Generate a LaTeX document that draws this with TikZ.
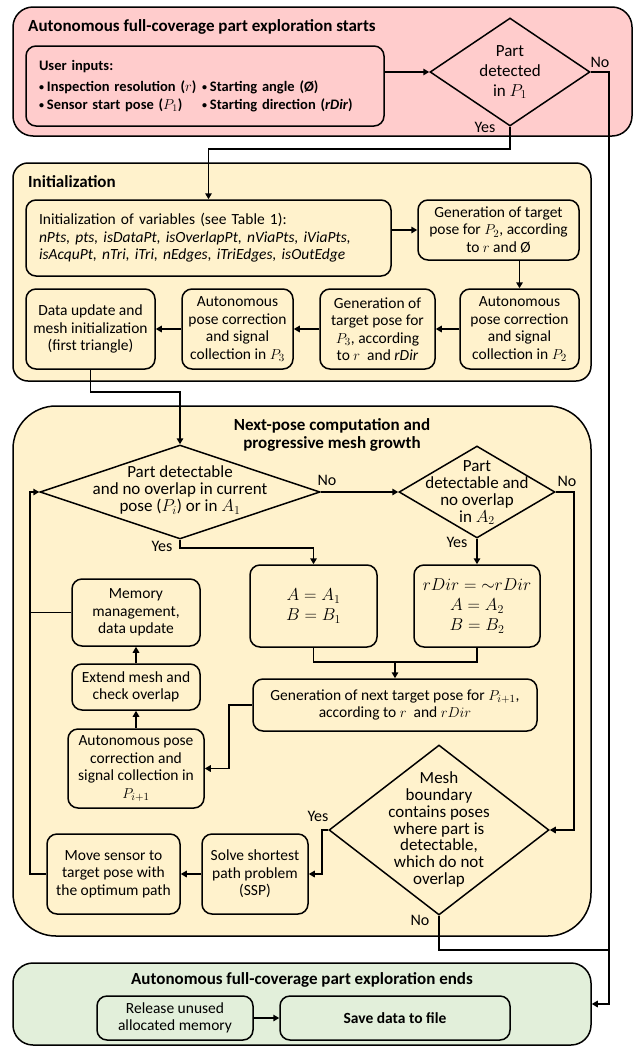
\documentclass[tikz,border=0pt]{standalone}
\usepackage{fontspec}
\usepackage{graphicx}
\setmainfont{Carlito}
\usetikzlibrary{shapes.geometric,arrows.meta,calc}
\definecolor{pinkfill}{RGB}{255,204,204}
\definecolor{yellowfill}{RGB}{255,242,204}
\definecolor{greenfill}{RGB}{226,239,218}
\newcommand{\smbul}{{\fontsize{10}{10}\selectfont\raisebox{1.2pt}{\textbullet}}\hspace{3pt}}
\begin{document}
\begin{tikzpicture}[x=1pt,y=-1pt,
  wh/.style n args={2}{minimum width=#1, minimum height=#2},
  container/.style={draw, line width=1.5pt, rectangle, inner sep=0pt},
  box/.style={draw, line width=1.5pt, rounded corners=10pt, align=center, inner sep=0pt, fill=yellowfill, font=\fontsize{15.5}{17.5}\selectfont},
  dia/.style={draw, diamond, line width=1.5pt, inner sep=0pt, fill=yellowfill},
  dtext/.style={align=center, inner sep=0pt, font=\fontsize{17}{17}\selectfont},
  ttl/.style={inner sep=0pt, font=\fontsize{17}{18}\selectfont\bfseries},
  lbl/.style={inner sep=0pt, font=\fontsize{16}{18}\selectfont},
  conn/.style={line width=1.5pt},
  arr/.style={line width=1.5pt, -{Triangle[length=6pt,width=6.5pt]}}]
\useasboundingbox (0,0) rectangle (634,1047);

% ---------- start section ----------
\node[container, fill=pinkfill, rounded corners=20pt, wh={619}{129}] (start) at (322.5,71.5) {};
\node[ttl, anchor=west] (startT) at (28,27) {Autonomous full-coverage part exploration starts};
\node[box, fill=pinkfill, wh={358}{80}, text width=332, align=left, font=\fontsize{14.5}{18}\selectfont\bfseries] (user) at (205,86)
 {User inputs:\\[3pt]
  \makebox[163pt][l]{\smbul Inspection resolution ($r$)}\smbul Starting angle (Ø)\\
  \makebox[163pt][l]{\smbul Sensor start pose ($P_1$)}\smbul Starting direction (\textit{rDir})};
\node[dia, fill=pinkfill, wh={160}{108}] (D0) at (510,72) {};
\node[dtext, font=\fontsize{17}{20}\selectfont] (D0t) at (510,72) {Part\\detected\\in $P_1$};
\node[lbl] (D0no) at (600,62) {No};
\node[lbl] (D0yes) at (485,127) {Yes};

% ---------- initialization ----------
\node[container, fill=yellowfill, rounded corners=15pt, wh={578}{218}] (init) at (302,272) {};
\node[ttl, anchor=west] (initT) at (28,182) {Initialization};
\node[box, wh={365}{76}, text width=339, align=left] (var) at (208.5,238)
 {Initialization of variables (see Table 1):\\
  \mbox{\itshape nPts, pts, isDataPt, isOverlapPt, nViaPts, iViaPts,}\\
  \mbox{\itshape isAcquPt, nTri, iTri, nEdges, iTriEdges, isOutEdge}};
\node[box, wh={161}{60}] (genP2) at (498.5,230) {Generation of target\\pose for $P_2$, according\\to $r$ and Ø};
\node[box, wh={129}{80}] (dataUp) at (90.5,329) {Data update and\\mesh initialization\\(first triangle)};
\node[box, wh={111}{80}] (autoP3) at (237.5,329) {Autonomous\\pose correction\\and signal\\collection in $P_3$};
\node[box, wh={115}{80}] (genP3) at (377.5,329) {Generation of\\target pose for\\$P_3$, according\\to $r$\ \ and \textit{rDir}};
\node[box, wh={119}{80}] (autoP2) at (519.5,329) {Autonomous\\pose correction\\and signal\\collection in $P_2$};

% ---------- next-pose section ----------
\node[container, fill=yellowfill, rounded corners=43pt, wh={578}{530}] (mid) at (302,671) {};
\node[ttl, align=center] (midT) at (332,435) {Next-pose computation and\\progressive mesh growth};
\node[dia, wh={280}{94}] (D1) at (180,492) {};
\node[dtext] (D1t) at (180,490) {Part detectable\\and no overlap in current\\pose ($P_i$) or in $A_1$};
\node[dia, wh={156}{92}] (D2) at (477,492) {};
\node[dtext] (D2t) at (477,492.5) {Part\\detectable and\\no overlap\\in $A_2$};
\node[lbl] (D1no) at (327,480) {No};
\node[lbl] (D2no) at (567,481) {No};
\node[lbl] (D1yes) at (162,546) {Yes};
\node[lbl] (D2yes) at (457,542) {Yes};
\node[box, wh={127}{82}, font=\fontsize{17}{20}\selectfont] (A1) at (313.5,606) {$A = A_1$\\$B = B_1$};
\node[box, wh={126}{82}, font=\fontsize{17}{20}\selectfont] (rDir) at (477,606) {$rDir = {\sim}rDir$\\$A = A_2$\\$B = B_2$};
\node[box, wh={284}{52}] (genNext) at (395,705) {Generation of next target pose for $P_{i+1}$,\\according to $r$\ \ and $rDir$};
\node[box, wh={128}{67}] (memory) at (136,612.5) {Memory\\management,\\data update};
\node[box, wh={128}{46}] (extend) at (136,687) {Extend mesh and\\check overlap};
\node[box, wh={136}{79}] (autoNext) at (136,768.5) {Autonomous pose\\correction and\\signal collection in\\$P_{i+1}$};
\node[dia, wh={220}{170}] (D3) at (439,830) {};
\node[dtext, font=\fontsize{17}{16.7}\selectfont] (D3t) at (439,829.5) {Mesh\\boundary\\contains poses\\where part is\\detectable,\\which do not\\overlap};
\node[lbl] (D3yes) at (318,816) {Yes};
\node[lbl] (D3no) at (420,920) {No};
\node[box, wh={106}{80}] (ssp) at (255,874) {Solve shortest\\path problem\\(SSP)};
\node[box, wh={133}{80}] (move) at (113.5,874) {Move sensor to\\target pose with\\the optimum path};

% ---------- end section ----------
\node[container, fill=greenfill, rounded corners=20pt, wh={578}{82}] (endbox) at (302,1004) {};
\node[ttl] (endT) at (302,980) {Autonomous full-coverage part exploration ends};
\node[box, fill=greenfill, wh={156}{44}] (release) at (175,1018) {Release unused\\allocated memory};
\node[box, fill=greenfill, wh={230}{44}, font=\fontsize{15.5}{17.5}\selectfont\bfseries] (save) at (395,1018) {Save data to file};

% ---------- helper coordinates ----------
\coordinate (bus) at (609,0);
\coordinate (yy1) at (0,149);
\coordinate (yy2) at (0,392);
\coordinate (yy3) at (0,548);
\coordinate (yy4) at (0,662);
\coordinate (yy5) at (0,950);
\coordinate (loopx) at (30,0);
\coordinate (gx) at (229,0);
\coordinate (d2x) at (574,0);
\coordinate (yx) at (322,0);

% ---------- connectors ----------
\draw[arr] (user.east |- D0.west) -- (D0.west);
\draw[arr] (D0.east) -- (bus |- D0.east) -- (bus |- endbox.east) -- (endbox.east);
\draw[arr] (D0.south) -- (D0.south |- yy1) -- (var.north |- yy1) -- (var.north);
\draw[arr] (var.east |- genP2.west) -- (genP2.west);
\draw[arr] (genP2.south -| autoP2.north) -- (autoP2.north);
\draw[arr] (autoP2.west) -- (genP3.east);
\draw[arr] (genP3.west) -- (autoP3.east);
\draw[arr] (autoP3.west) -- (dataUp.east);
\draw[arr] (dataUp.south) -- (dataUp.south |- yy2) -- (D1.north |- yy2) -- (D1.north);
\draw[arr] (D1.east) -- (D2.west);
\draw[arr] (D1.south) -- (D1.south |- yy3) -- (A1.north |- yy3) -- (A1.north);
\draw[arr] (D2.south) -- (rDir.north);
\draw[conn] (A1.south) -- (A1.south |- yy4) -- (rDir.south |- yy4) -- (rDir.south);
\draw[arr] (genNext.north |- yy4) -- (genNext.north);
\draw[arr] (genNext.west) -- (gx |- genNext.west) -- (gx |- autoNext.east) -- (autoNext.east);
\draw[arr] (autoNext.north) -- (extend.south);
\draw[arr] (extend.north) -- (memory.south);
\draw[conn] (memory.west) -- (loopx |- memory.west);
\draw[arr] (move.west) -- (loopx |- move.west) -- (loopx |- D1.west) -- (D1.west);
\draw[arr] (D2.east) -- (d2x |- D2.east) -- (d2x |- D3.east) -- (D3.east);
\draw[arr] (D3.west) -- (yx |- D3.west) -- (yx |- ssp.east) -- (ssp.east);
\draw[arr] (ssp.west) -- (move.east);
\draw[conn] (D3.south) -- (D3.south |- yy5) -- (bus |- yy5);
\draw[arr] (release.east) -- (save.west);
\end{tikzpicture}
\end{document}
